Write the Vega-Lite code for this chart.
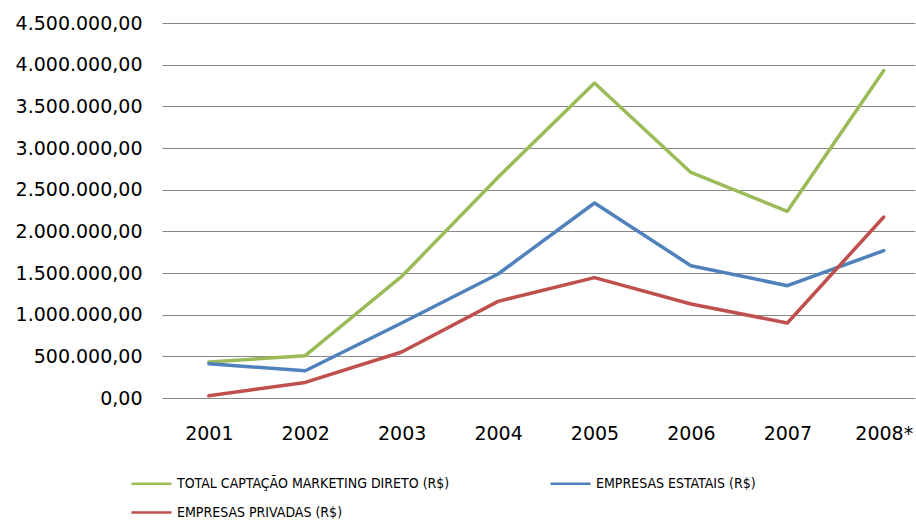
{
  "$schema": "https://vega.github.io/schema/vega-lite/v6.json",
  "autosize": {"type": "none"},
  "width": 753,
  "height": 375,
  "padding": {"left": 162, "top": 23, "right": 1, "bottom": 124},
  "background": "white",
  "config": {
    "view": {"stroke": null},
    "locale": {"number": {"decimal": ",", "thousands": ".", "grouping": [3], "currency": ["R$", ""]}},
    "font": "DejaVu Sans"
  },
  "data": {
    "values": [
      {"ano": "2001", "serie": "TOTAL CAPTAÇÃO MARKETING DIRETO (R$)", "valor": 432000},
      {"ano": "2002", "serie": "TOTAL CAPTAÇÃO MARKETING DIRETO (R$)", "valor": 508000},
      {"ano": "2003", "serie": "TOTAL CAPTAÇÃO MARKETING DIRETO (R$)", "valor": 1459000},
      {"ano": "2004", "serie": "TOTAL CAPTAÇÃO MARKETING DIRETO (R$)", "valor": 2650000},
      {"ano": "2005", "serie": "TOTAL CAPTAÇÃO MARKETING DIRETO (R$)", "valor": 3780000},
      {"ano": "2006", "serie": "TOTAL CAPTAÇÃO MARKETING DIRETO (R$)", "valor": 2707000},
      {"ano": "2007", "serie": "TOTAL CAPTAÇÃO MARKETING DIRETO (R$)", "valor": 2240000},
      {"ano": "2008*", "serie": "TOTAL CAPTAÇÃO MARKETING DIRETO (R$)", "valor": 3930000},
      {"ano": "2001", "serie": "EMPRESAS ESTATAIS (R$)", "valor": 410000},
      {"ano": "2002", "serie": "EMPRESAS ESTATAIS (R$)", "valor": 327000},
      {"ano": "2003", "serie": "EMPRESAS ESTATAIS (R$)", "valor": 900000},
      {"ano": "2004", "serie": "EMPRESAS ESTATAIS (R$)", "valor": 1488000},
      {"ano": "2005", "serie": "EMPRESAS ESTATAIS (R$)", "valor": 2340000},
      {"ano": "2006", "serie": "EMPRESAS ESTATAIS (R$)", "valor": 1588000},
      {"ano": "2007", "serie": "EMPRESAS ESTATAIS (R$)", "valor": 1348000},
      {"ano": "2008*", "serie": "EMPRESAS ESTATAIS (R$)", "valor": 1768000},
      {"ano": "2001", "serie": "EMPRESAS PRIVADAS (R$)", "valor": 28000},
      {"ano": "2002", "serie": "EMPRESAS PRIVADAS (R$)", "valor": 187000},
      {"ano": "2003", "serie": "EMPRESAS PRIVADAS (R$)", "valor": 552000},
      {"ano": "2004", "serie": "EMPRESAS PRIVADAS (R$)", "valor": 1160000},
      {"ano": "2005", "serie": "EMPRESAS PRIVADAS (R$)", "valor": 1444000},
      {"ano": "2006", "serie": "EMPRESAS PRIVADAS (R$)", "valor": 1128000},
      {"ano": "2007", "serie": "EMPRESAS PRIVADAS (R$)", "valor": 900000},
      {"ano": "2008*", "serie": "EMPRESAS PRIVADAS (R$)", "valor": 2172000}
    ]
  },
  "mark": {"type": "line", "strokeWidth": 3.5, "strokeJoin": "round", "strokeCap": "round"},
  "encoding": {
    "x": {
      "field": "ano",
      "type": "ordinal",
      "scale": {"type": "point", "padding": 0.405, "align": 0.6},
      "axis": {
        "title": null,
        "labelAngle": 0,
        "labelFont": "DejaVu Sans",
        "labelFontSize": 19,
        "labelColor": "#000000",
        "labelPadding": 26,
        "ticks": false,
        "domain": false,
        "grid": false
      }
    },
    "y": {
      "field": "valor",
      "type": "quantitative",
      "scale": {"domain": [0, 4500000], "nice": false, "zero": true},
      "axis": {
        "title": null,
        "values": [0, 500000, 1000000, 1500000, 2000000, 2500000, 3000000, 3500000, 4000000, 4500000],
        "format": ",.2f",
        "labelFont": "DejaVu Sans",
        "labelFontSize": 19,
        "labelColor": "#000000",
        "labelPadding": 20,
        "ticks": false,
        "domain": false,
        "grid": true,
        "gridColor": "#888888",
        "gridWidth": 1.2
      }
    },
    "color": {
      "field": "serie",
      "type": "nominal",
      "sort": ["TOTAL CAPTAÇÃO MARKETING DIRETO (R$)", "EMPRESAS ESTATAIS (R$)", "EMPRESAS PRIVADAS (R$)"],
      "scale": {
        "domain": ["TOTAL CAPTAÇÃO MARKETING DIRETO (R$)", "EMPRESAS ESTATAIS (R$)", "EMPRESAS PRIVADAS (R$)"],
        "range": ["#9BBB59", "#4F81BD", "#C0504D"]
      },
      "legend": {
        "title": null,
        "orient": "none",
        "legendX": -32,
        "legendY": 439,
        "direction": "horizontal",
        "columns": 2,
        "columnPadding": 95,
        "rowPadding": -5,
        "symbolType": "stroke",
        "symbolSize": 1600,
        "symbolStrokeWidth": 2.5,
        "symbolOffset": 0,
        "labelOffset": 4,
        "labelFont": "Liberation Sans Narrow, DejaVu Sans Condensed, Arial Narrow, sans-serif",
        "labelFontSize": 14,
        "labelColor": "#000000",
        "labelLimit": 400
      }
    }
  }
}
